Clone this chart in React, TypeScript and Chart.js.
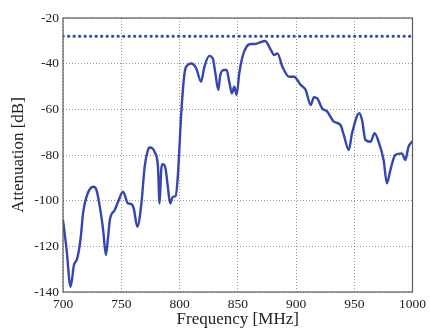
import React, { useEffect, useRef } from "react";
import { Chart, registerables } from "chart.js";

Chart.register(...registerables);

const freqMHz = [
  700, 703, 706.5, 709.4, 712.2, 715, 717.4, 720.2, 723, 725.9, 728.2, 731.6, 734.5, 736.8, 738.5, 740.2,
  744.4, 747.3, 751.5, 755.8, 758.7, 760.7, 763.8, 767.3, 770.1, 772.9, 774.4, 776.5, 778.6, 781.5,
  782.9, 784.4, 785.8, 788, 790, 792, 794.3, 796.6, 798.6, 801.5, 804.3, 807.1, 810, 814.3, 818.5,
  821.4, 825.6, 828.5, 830.8, 833.3, 835, 838.5, 840.4, 842.7, 845, 847, 849, 851.3, 854.1, 857.5,
  861.3, 864.9, 868.4, 873.5, 878.4, 881.2, 884, 888.3, 894, 898.3, 904, 908.3, 912.6, 915.4, 918.2,
  922.5, 926.8, 932.5, 938.2, 941, 945.3, 948.1, 954.4, 956.7, 959.6, 963.9, 967.5, 970.9, 975.2,
  978, 981, 985.2, 990.9, 993.8, 996.6, 1000,
];
const attenuationDb = [
  -108.5, -121, -137.7, -128.2, -125.3, -117, -104.8, -98.3, -95, -93.9, -94.6, -102.6, -113, -123.8, -117, -108.5,
  -104.1, -100.5, -96.1, -101.2, -101.5, -103.4, -111.4, -101.2, -85.1, -77.8, -76.7, -77, -78.6, -85.1,
  -101.2, -85.9, -84, -85.9, -93.9, -101.2, -98.3, -98, -89, -61.7, -44.2, -40.6, -39.9, -42, -47.9,
  -41.3, -36.6, -37.6, -44.2, -51.5, -45, -42.8, -42.8, -47.9, -53, -50.1, -53.7, -44.2, -36.9, -32.6,
  -31.4, -31.4, -30.8, -30.1, -34, -36.2, -35.5, -41.3, -45.7, -45.7, -49.3, -51.5, -58.1, -54.7, -55.2,
  -59.6, -61, -65.4, -66.9, -71.2, -77.8, -70.5, -61.7, -64.7, -73.4, -74.2, -70.5, -74.2, -82.2,
  -92.4, -86.6, -80, -79.3, -82.2, -76.4, -74,
];
const limitFreq = [700, 1000];
const limitDb = [-28, -28];

const xTicks = [700, 750, 800, 850, 900, 950, 1000];
const yTicks = [-140, -120, -100, -80, -60, -40, -20];

const FONT = "'Liberation Serif', 'Times New Roman', serif";
const BLUE = "#3346b2";

const boxPlugin = {
  id: "box",
  afterDraw(chart: any) {
    const { ctx, chartArea: a } = chart;
    ctx.save();
    ctx.strokeStyle = "#5a5a5a";
    ctx.lineWidth = 1.2;
    ctx.strokeRect(a.left, a.top, a.right - a.left, a.bottom - a.top);
    ctx.restore();
  },
};

export default function App() {
  const ref = useRef<HTMLCanvasElement>(null);
  useEffect(() => {
    if (!ref.current) return;
    const chart = new Chart(ref.current, {
      type: "line",
      data: {
        datasets: [
          {
            data: freqMHz.map((x, i) => ({ x, y: attenuationDb[i] })),
            borderColor: BLUE,
            borderWidth: 2.4,
            pointRadius: 0,
            cubicInterpolationMode: "monotone",
          },
          {
            data: limitFreq.map((x, i) => ({ x, y: limitDb[i] })),
            borderColor: BLUE,
            borderWidth: 3,
            borderDash: [0.3, 5.2],
            borderCapStyle: "round",
            pointRadius: 0,
          },
        ],
      },
      options: {
        responsive: false,
        animation: false,
        layout: { padding: { left: 0, right: 16, top: 18, bottom: 0 } },
        plugins: { legend: { display: false }, tooltip: { enabled: false } },
        scales: {
          x: {
            type: "linear",
            min: 700,
            max: 1000,
            afterBuildTicks: (s: any) => {
              s.ticks = xTicks.map((v) => ({ value: v }));
            },
            afterFit: (s: any) => {
              s.height = 37;
            },
            grid: { color: "rgba(0,0,0,0.4)", drawTicks: false },
            border: { display: false, dash: [1, 2] },
            ticks: {
              padding: 4,
              font: { family: FONT, size: 13.5 },
              color: "#222",
              maxRotation: 0,
              callback: (v: any) => String(v),
            },
            title: {
              display: true,
              text: "Frequency [MHz]",
              font: { family: FONT, size: 17, lineHeight: 1 },
              color: "#222",
              padding: { top: 0, bottom: 1 },
            },
          },
          y: {
            type: "linear",
            min: -140,
            max: -20,
            afterBuildTicks: (s: any) => {
              s.ticks = yTicks.map((v) => ({ value: v }));
            },
            afterFit: (s: any) => {
              s.width = 63;
            },
            grid: { color: "rgba(0,0,0,0.4)", drawTicks: false },
            border: { display: false, dash: [1, 2] },
            ticks: {
              padding: 4,
              font: { family: FONT, size: 13.5 },
              color: "#222",
              callback: (v: any) => String(v),
            },
            title: {
              display: true,
              text: "Attenuation [dB]",
              font: { family: FONT, size: 17, lineHeight: 1 },
              color: "#222",
              padding: { top: 10, bottom: 0 },
            },
          },
        },
      },
      plugins: [boxPlugin],
    } as any);
    return () => chart.destroy();
  }, []);
  return (
    <div style={{ position: "absolute", left: 0, top: 0, width: 430, height: 329, background: "#fff" }}>
      <canvas ref={ref} width={430} height={329} />
    </div>
  );
}
